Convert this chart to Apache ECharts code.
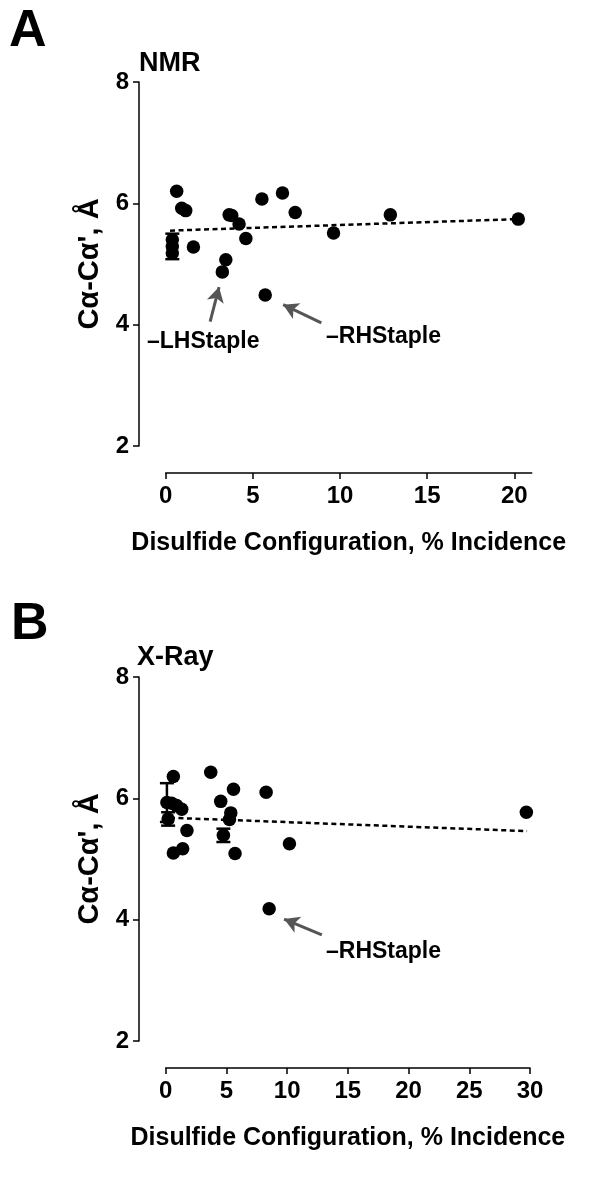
<!DOCTYPE html>
<html>
<head>
<meta charset="utf-8">
<script src="https://cdn.jsdelivr.net/npm/echarts@6/dist/echarts.min.js"></script>
<style>html,body{margin:0;padding:0;background:#fff}#c{width:600px;height:1182px}</style>
</head>
<body>
<div id="c"></div>
<script>
// ---- Data ----
var yTicks = [2, 4, 6, 8];
var nmrXTicks = [0, 5, 10, 15, 20];
var xrayXTicks = [0, 5, 10, 15, 20, 25, 30];

var nmrX = [0.63, 0.92, 1.15, 1.59, 3.64, 3.79, 4.21, 4.60, 3.45, 3.25, 5.52, 6.70, 7.43, 5.71, 9.63, 12.89, 20.23, 0.38, 0.38, 0.38];
var nmrY = [6.20, 5.92, 5.88, 5.28, 5.81, 5.80, 5.66, 5.42, 5.07, 4.87, 6.07, 6.17, 5.85, 4.49, 5.51, 5.81, 5.74, 5.40, 5.29, 5.18];
var nmrErrX = [0.38];
var nmrErrMean = [5.29];
var nmrErrSd = [0.21];
var nmrTrendX = [0.25, 20.2];
var nmrTrendY = [5.55, 5.74];

var xrayX = [0.63, 3.71, 5.58, 8.27, 4.53, 5.36, 5.25, 29.7, 1.75, 10.19, 0.63, 1.40, 5.71, 8.52, 0.1, 0.49, 0.90, 1.32, 0.2, 4.75];
var xrayY = [6.36, 6.43, 6.15, 6.10, 5.95, 5.76, 5.65, 5.77, 5.47, 5.25, 5.10, 5.17, 5.09, 4.18, 5.93, 5.92, 5.88, 5.82, 5.66, 5.39];
var xrayErrX = [0.1, 0.2, 4.75];
var xrayErrMean = [5.93, 5.66, 5.39];
var xrayErrSd = [0.32, 0.11, 0.11];
var xrayTrendX = [0.35, 29.76];
var xrayTrendY = [5.68, 5.46];

// annotation arrows [tailX, tailY, headX, headY] in data units
var nmrArrowLH = [2.55, 4.05, 3.06, 4.62];
var nmrArrowRH = [8.93, 4.03, 6.74, 4.33];
var xrayArrowRH = [12.86, 3.75, 9.75, 4.01];

// ---- helpers ----
function zip(a, b) { return a.map(function (v, i) { return [v, b[i]]; }); }
var FONT = '"Liberation Sans", Arial, Helvetica, sans-serif';

function errData(xs, ms, sds) {
  return xs.map(function (x, i) { return [x, ms[i] - sds[i], ms[i] + sds[i]]; });
}
function errRender(params, api) {
  var x = api.value(0), lo = api.value(1), hi = api.value(2);
  var pLo = api.coord([x, lo]), pHi = api.coord([x, hi]);
  var hw = 7;
  var st = { stroke: '#000', lineWidth: 2.5 };
  return {
    type: 'group',
    children: [
      { type: 'line', shape: { x1: pLo[0], y1: pLo[1], x2: pHi[0], y2: pHi[1] }, style: st },
      { type: 'line', shape: { x1: pLo[0] - hw, y1: pLo[1], x2: pLo[0] + hw, y2: pLo[1] }, style: st },
      { type: 'line', shape: { x1: pHi[0] - hw, y1: pHi[1], x2: pHi[0] + hw, y2: pHi[1] }, style: st }
    ]
  };
}
function arrowML(a) {
  return [{ coord: [a[0], a[1]] }, { coord: [a[2], a[3]] }];
}

function xAxisCfg(gi, max, ticks) {
  return {
    gridIndex: gi, type: 'value', min: 0, max: max, interval: 5,
    offset: 27,
    name: 'Disulfide Configuration, % Incidence',
    nameLocation: 'middle', nameGap: 58,
    nameTextStyle: { fontFamily: FONT, fontWeight: 'bold', fontSize: 25, color: '#000' },
    splitLine: { show: false },
    axisLine: { show: true, onZero: false, lineStyle: { color: '#000', width: 1.5 } },
    axisTick: { show: true, length: 6, customValues: ticks, lineStyle: { color: '#000', width: 1.5 } },
    axisLabel: { customValues: ticks, margin: 11, fontFamily: FONT, fontWeight: 'bold', fontSize: 24, color: '#000' }
  };
}
function yAxisCfg(gi) {
  return {
    gridIndex: gi, type: 'value', min: 2, max: 8, interval: 2,
    offset: 26.7,
    name: "C\u03b1-C\u03b1', \u00c5",
    nameLocation: 'middle', nameRotate: 90, nameGap: 34,
    nameTextStyle: { fontFamily: FONT, fontWeight: 'bold', fontSize: 29, color: '#000' },
    splitLine: { show: false },
    axisLine: { show: true, onZero: false, lineStyle: { color: '#000', width: 1.5 } },
    axisTick: { show: true, length: 6, customValues: yTicks, lineStyle: { color: '#000', width: 1.5 } },
    axisLabel: { customValues: yTicks, margin: 10, fontFamily: FONT, fontWeight: 'bold', fontSize: 24, color: '#000' }
  };
}
function trendSeries(gi, xs, ys) {
  return {
    type: 'line', xAxisIndex: gi, yAxisIndex: gi, data: zip(xs, ys),
    symbol: 'none', silent: true, z: 1,
    lineStyle: { color: '#000', width: 2.5, type: [5, 3.5] }
  };
}
function arrowSeries(gi, arrows) {
  return {
    type: 'line', xAxisIndex: gi, yAxisIndex: gi, data: [], symbol: 'none',
    markLine: {
      silent: true, symbol: ['none', 'arrow'], symbolSize: [13, 15],
      label: { show: false },
      lineStyle: { color: '#555', width: 3, type: 'solid' },
      emphasis: { disabled: true },
      data: arrows.map(arrowML)
    }
  };
}
function scatterSeries(gi, xs, ys) {
  return {
    type: 'scatter', xAxisIndex: gi, yAxisIndex: gi, data: zip(xs, ys),
    symbol: 'circle', symbolSize: 13.5, z: 3,
    itemStyle: { color: '#000', opacity: 1 }
  };
}
function errSeries(gi, xs, ms, sds) {
  return {
    type: 'custom', xAxisIndex: gi, yAxisIndex: gi, data: errData(xs, ms, sds),
    renderItem: errRender, z: 2, encode: { x: 0, y: [1, 2] }
  };
}
function txt(t, x, y, size) {
  return {
    type: 'text', left: x, top: y,
    style: { text: t, fontFamily: FONT, fontWeight: 'bold', fontSize: size, fill: '#000' }
  };
}

var chart = echarts.init(document.getElementById('c'), null, { renderer: 'canvas' });
chart.setOption({
  animation: false,
  backgroundColor: '#fff',
  grid: [
    { left: 165.7, top: 82, width: 366, height: 364 },
    { left: 165.7, top: 677, width: 364.3, height: 364 }
  ],
  xAxis: [xAxisCfg(0, 21, nmrXTicks), xAxisCfg(1, 30, xrayXTicks)],
  yAxis: [yAxisCfg(0), yAxisCfg(1)],
  graphic: [
    txt('A', 9, 6, 52),
    txt('NMR', 139, 50, 27),
    txt('B', 11, 599, 52),
    txt('X-Ray', 137, 644, 27),
    txt('\u2013LHStaple', 147, 330, 23),
    txt('\u2013RHStaple', 326, 325, 23),
    txt('\u2013RHStaple', 326, 940, 23)
  ],
  series: [
    trendSeries(0, nmrTrendX, nmrTrendY),
    errSeries(0, nmrErrX, nmrErrMean, nmrErrSd),
    scatterSeries(0, nmrX, nmrY),
    arrowSeries(0, [nmrArrowLH, nmrArrowRH]),
    trendSeries(1, xrayTrendX, xrayTrendY),
    errSeries(1, xrayErrX, xrayErrMean, xrayErrSd),
    scatterSeries(1, xrayX, xrayY),
    arrowSeries(1, [xrayArrowRH])
  ]
});
</script>
</body>
</html>
